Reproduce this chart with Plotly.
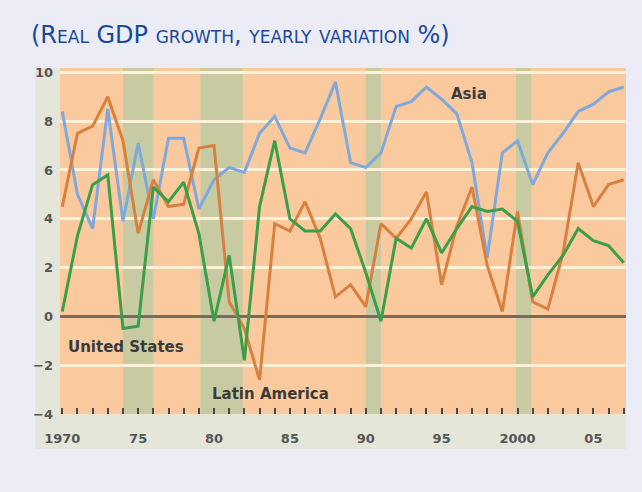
import plotly.graph_objects as go

years = list(range(1970, 2008))

asia = [8.4, 5.0, 3.6, 8.5, 3.9, 7.1, 4.0, 7.3, 7.3, 4.4,
        5.6, 6.1, 5.9, 7.5, 8.2, 6.9, 6.7, 8.1, 9.6, 6.3,
        6.1, 6.7, 8.6, 8.8, 9.4, 8.9, 8.3, 6.3, 2.4, 6.7,
        7.2, 5.4, 6.7, 7.5, 8.4, 8.7, 9.2, 9.4]

latin_america = [4.5, 7.5, 7.8, 9.0, 7.2, 3.4, 5.6, 4.5, 4.6, 6.9,
                 7.0, 0.6, -0.5, -2.6, 3.8, 3.5, 4.7, 3.2, 0.8, 1.3,
                 0.4, 3.8, 3.2, 4.0, 5.1, 1.3, 3.7, 5.3, 2.1, 0.2,
                 4.3, 0.6, 0.3, 2.6, 6.3, 4.5, 5.4, 5.6]

united_states = [0.2, 3.3, 5.4, 5.8, -0.5, -0.4, 5.3, 4.7, 5.5, 3.4,
                 -0.2, 2.5, -1.8, 4.5, 7.2, 4.0, 3.5, 3.5, 4.2, 3.6,
                 1.8, -0.2, 3.2, 2.8, 4.0, 2.6, 3.6, 4.5, 4.3, 4.4,
                 3.9, 0.8, 1.7, 2.5, 3.6, 3.1, 2.9, 2.2]

# recession periods (shaded)
recessions = [(1974.0, 1976.0), (1979.1, 1981.9), (1990.0, 1991.0), (1999.9, 2000.9)]

tick_years = [1970, 1975, 1980, 1985, 1990, 1995, 2000, 2005]
tick_labels = ["1970", "75", "80", "85", "90", "95", "2000", "05"]
y_ticks = [-4, -2, 0, 2, 4, 6, 8, 10]

ORANGE_BG = "#FBC99E"
BAND = "#C8CBA2"
STRIP = "#E4E6DA"
PAGE = "#ECECF6"

fig = go.Figure()

fig.add_trace(go.Scatter(x=years, y=asia, mode="lines", name="Asia",
                         line=dict(color="#7FA9DA", width=3)))
fig.add_trace(go.Scatter(x=years, y=latin_america, mode="lines", name="Latin America",
                         line=dict(color="#D8813F", width=3)))
fig.add_trace(go.Scatter(x=years, y=united_states, mode="lines", name="United States",
                         line=dict(color="#3A9F48", width=3)))

for x0, x1 in recessions:
    fig.add_shape(type="rect", xref="x", yref="paper", x0=x0, x1=x1, y0=0, y1=1,
                  fillcolor=BAND, line_width=0, layer="between")

# grey-green label strips on the left and at the bottom
fig.add_shape(type="rect", xref="paper", yref="paper", x0=-25 / 566, x1=0,
              y0=-35 / 346, y1=1, fillcolor=STRIP, line_width=0, layer="below")
fig.add_shape(type="rect", xref="paper", yref="paper", x0=0, x1=1,
              y0=-35 / 346, y1=0, fillcolor=STRIP, line_width=0, layer="below")

label_font = dict(family="DejaVu Sans", size=15, color="#3A3A3A", weight="bold")
fig.add_annotation(x=1996.8, y=9.1, text="Asia", showarrow=False, font=label_font)
fig.add_annotation(x=1974.2, y=-1.26, text="United States", showarrow=False, font=label_font)
fig.add_annotation(x=1983.75, y=-3.16, text="Latin America", showarrow=False, font=label_font)

fig.update_layout(
    width=642, height=492,
    margin=dict(l=60, r=16, t=68, b=78),
    paper_bgcolor=PAGE,
    plot_bgcolor=ORANGE_BG,
    showlegend=False,
    title=dict(text="(Real GDP growth, yearly variation %)", xref="container", yref="container",
               x=31 / 642, xanchor="left", y=1 - 35 / 492, yanchor="middle",
               font=dict(family="DejaVu Sans", size=24, color="#184A9A",
                         variant="small-caps")),
    xaxis=dict(range=[1969.85, 2007.15], tickvals=tick_years, ticktext=tick_labels,
               showgrid=False, zeroline=False, ticks="inside", ticklen=6, tickwidth=2,
               tickcolor="#4A4A4A", ticklabelstandoff=15,
               minor=dict(dtick=1, ticks="inside", ticklen=6, tickwidth=2, tickcolor="#4A4A4A"),
               tickfont=dict(family="DejaVu Sans", size=13, color="#555555", weight="bold")),
    yaxis=dict(range=[-4, 10.18], tickvals=y_ticks, showgrid=True, gridcolor="#FDF1D9",
               gridwidth=3, zeroline=True, zerolinecolor="#776A60", zerolinewidth=3,
               ticks="", ticklabelstandoff=6,
               tickfont=dict(family="DejaVu Sans", size=13, color="#555555", weight="bold")),
)

fig.write_html("out.html", config={"displayModeBar": False},
               post_script="document.body.style.margin='0';")
